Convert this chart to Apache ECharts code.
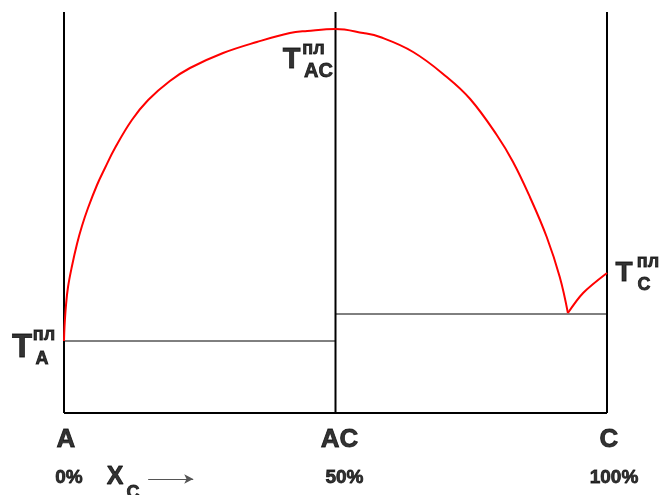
<!DOCTYPE html>
<html>
<head>
<meta charset="utf-8">
<script src="https://cdn.jsdelivr.net/npm/echarts@6/dist/echarts.min.js"></script>
<style>
  html, body { margin: 0; padding: 0; background: #fff; }
  #chart { width: 659px; height: 495px; }
</style>
</head>
<body>
<div id="chart"></div>
<script>
// composition, % of C
var compX = [0, 50, 100];
var compNames = ['A', 'AC', 'C'];
var compPct = ['0%', '50%', '100%'];

// liquidus A..AC..eutectic
var liqX = [0, 0.09, 0.37, 0.74, 1.47, 2.39, 3.31, 4.42, 6.08, 7.55, 9.39, 12.5, 15.5, 19.5, 23.2, 29.3, 35.5, 41.6, 44.8, 50,
            55.1, 58.2, 64.3, 70.5, 74.8, 79.7, 82.7, 85.8, 88.9, 91.3, 92.8];
var liqT = [72, 86, 108, 126, 147, 169, 187, 205, 228, 245, 265, 293, 313, 332, 345, 360, 371, 380, 382, 384,
            380, 376, 361, 336, 314, 278, 251, 216, 176, 136, 100];
// liquidus eutectic..C
var liqCX = [92.8, 95.6, 100];
var liqCT = [100, 120, 140];

// melting points
var meltA = 72, meltAC = 384, meltC = 140;
// eutectic lines
var eutLeftT = 72, eutRightT = 99;
var topT = 401;

var font = "'Liberation Sans', Arial, sans-serif";

function pts(xs, ys) {
  return xs.map(function (x, i) { return [x, ys[i]]; });
}

function line(data, color, width) {
  return {
    type: 'line', data: data, symbol: 'none', silent: true,
    lineStyle: { color: color, width: width }, z: 2
  };
}

function txt(x, y, text, size, dx, dy) {
  return {
    type: 'scatter', data: [[x, y]], symbolSize: 1, silent: true,
    itemStyle: { color: 'rgba(0,0,0,0)' },
    label: {
      show: true, position: 'inside', formatter: text,
      align: 'center', verticalAlign: 'middle',
      offset: [dx, dy], color: '#000',
      textBorderColor: '#000', textBorderWidth: 0.8,
      fontFamily: font, fontWeight: 'bold', fontSize: size
    },
    z: 5
  };
}

var series = [
  // verticals
  line([[0, 0], [0, topT]], '#000', 2),
  line([[50, 0], [50, topT]], '#000', 2),
  line([[100, 0], [100, topT]], '#000', 2),
  // bottom
  line([[0, 0], [100, 0]], '#000', 2),
  // eutectics
  line([[0, eutLeftT], [50, eutLeftT]], '#000', 1),
  line([[50, eutRightT], [100, eutRightT]], '#000', 1),
  // liquidus
  Object.assign(line(pts(liqX, liqT), '#ff0000', 2), { smooth: 0.4, z: 3 }),
  Object.assign(line(pts(liqCX, liqCT), '#ff0000', 2), { smooth: 0.3, z: 3 }),
  // T labels
  txt(0, meltA, 'T', 33, -42, 7),
  txt(0, meltA, 'пл', 18, -20, -6),
  txt(0, meltA, 'A', 18, -22, 18),
  txt(50, meltAC, 'T', 29, -44, 31),
  txt(50, meltAC, 'пл', 18, -22, 20),
  txt(50, meltAC, 'AC', 20, -17, 42),
  txt(100, meltC, 'T', 28, 17, 0),
  txt(100, meltC, 'пл', 18, 41, -11),
  txt(100, meltC, 'C', 18, 37, 12),
  // X_C arrow
  txt(0, 0, 'X', 25, 51, 64),
  txt(0, 0, 'C', 18, 69, 80),
  {
    type: 'line', data: [], silent: true,
    markLine: {
      silent: true, symbol: ['none', 'arrow'], symbolSize: [7, 9],
      label: { show: false },
      lineStyle: { color: '#555', width: 1, type: 'solid' },
      data: [[{ coord: [15.5, -66] }, { coord: [23.8, -66] }]]
    }
  }
];

compX.forEach(function (x, i) {
  series.push(txt(x, 0, compNames[i], 26, i === 1 ? 4 : 2, 27));
  series.push(txt(x, 0, compPct[i], 19, [5, 9, 7][i], 65));
});

var chart = echarts.init(document.getElementById('chart'));
chart.setOption({
  animation: false,
  backgroundColor: '#fff',
  grid: { left: 64, right: 52, top: 12, bottom: 0 },
  xAxis: { type: 'value', min: 0, max: 100, show: false },
  yAxis: { type: 'value', min: -82, max: topT, show: false },
  series: series
});
</script>
</body>
</html>
